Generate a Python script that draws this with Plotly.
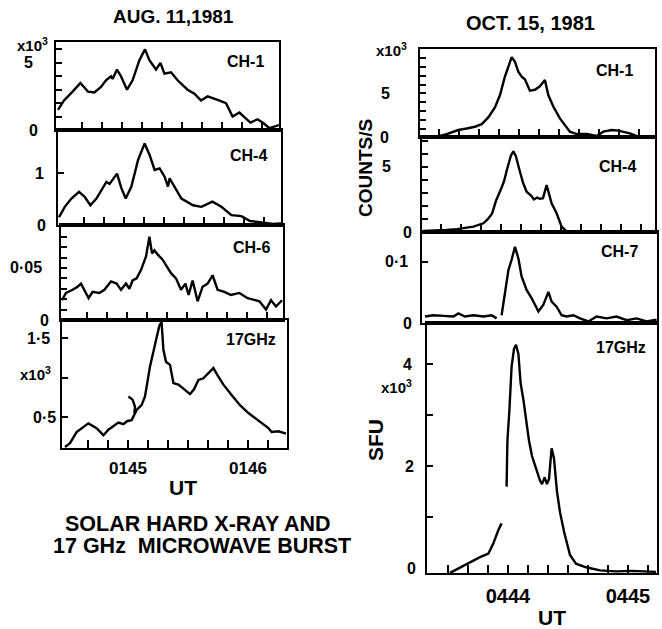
import plotly.graph_objects as go

W, H = 662, 629
FONT = "Liberation Sans"

# ---------------- data (time in seconds relative to the labelled minute) -------------
# AUG. 11, 1981 (seconds after 01:45:00 UT)
t_aug_ch1 = [-32, -29, -24.7, -20.8, -17, -13.8, -10.5, -8, -5.5, -4.7, -2.5, -0.5, 2.5, 5.3, 8.7,
             11.5, 13.7, 17, 19.2, 21.2, 24.5, 27.8, 32.8, 36.2, 39.5, 42.8, 47.8, 52, 55.3, 58.7,
             61.2, 64.2, 67.8, 70.8, 73.7, 78.5]
v_aug_ch1 = [1.5, 2.2, 2.86, 3.5, 2.86, 2.8, 3.2, 3.7, 4.0, 3.8, 4.5, 4.0, 3.0, 3.7, 5.2,
             6.0, 5.2, 4.5, 5.0, 4.2, 4.3, 3.7, 3.0, 2.7, 2.2, 2.5, 2.24, 2.0, 1.0, 1.3,
             0.95, 0.55, 0.8, 0.5, 0.13, 0.37]

t_aug_ch4 = [-32.5, -29.6, -26.3, -22.5, -19.6, -16.8, -13.8, -10.5, -8.8, -7.2, -3.5, -1.3, 0.85,
             3.7, 7, 10.3, 12.8, 15.3, 17.8, 20.3, 22, 22.8, 26.2, 28.7, 34.5, 38.7, 44.2, 48.7,
             53.7, 58.7, 62.8, 68.7, 74.5, 78.5]
v_aug_ch4 = [0.15, 0.35, 0.51, 0.64, 0.54, 0.38, 0.51, 0.71, 0.83, 0.79, 0.99, 0.71, 0.51,
             0.74, 1.25, 1.57, 1.35, 1.06, 1.09, 0.93, 0.74, 0.9, 0.67, 0.51, 0.38, 0.35, 0.45, 0.35,
             0.19, 0.17, 0.08, 0.045, 0.02, 0.03]

t_aug_ch6 = [-32.5, -30.5, -27.2, -24.7, -23, -21.3, -19.2, -17.2, -13.8, -11.3, -8, -5.2, -3, -0.5,
             1.2, 2.8, 4.8, 7, 9.5, 11.2, 12.5, 13.7, 15.3, 17.8, 20.3, 22, 24.5, 27, 29.2, 30.8,
             32.8, 35.3, 37.8, 40.3, 42.8, 45.3, 48.7, 52, 56.2, 60.3, 66.2, 69.5, 72, 74.5, 77.5]
v_aug_ch6 = [0.019, 0.026, 0.029, 0.032, 0.035, 0.029, 0.021, 0.027, 0.026, 0.029, 0.037, 0.035,
             0.029, 0.035, 0.030, 0.038, 0.040, 0.048, 0.061, 0.080, 0.064, 0.067, 0.063, 0.058,
             0.051, 0.045, 0.040, 0.029, 0.035, 0.024, 0.038, 0.018, 0.032, 0.035, 0.043, 0.029,
             0.027, 0.024, 0.026, 0.021, 0.018, 0.010, 0.019, 0.013, 0.019]

t_aug_17 = [-31.5, -29, -25.7, -19.8, -15.7, -12.3, -9.8, -7.3, -4.8, -2.3, -0.3, 1.8, 4.3, 6.8,
            8.5, 11, 13.5, 15.7, 16.8, 17.7, 19, 21, 22.7, 25.2, 27.7, 31, 33, 35.2, 37.7, 40.2,
            42.7, 45.2, 47.7, 51.8, 56, 60.2, 65.2, 70.2, 71.8, 75.2, 79]
v_aug_17 = [0.12, 0.17, 0.31, 0.42, 0.36, 0.27, 0.34, 0.39, 0.43, 0.41, 0.45, 0.46, 0.59, 0.65,
            0.76, 1.14, 1.43, 1.66, 1.70, 1.35, 1.20, 1.16, 0.93, 0.91, 0.86, 0.79, 0.85, 0.97,
            0.99, 1.05, 1.12, 1.01, 0.91, 0.78, 0.65, 0.55, 0.46, 0.36, 0.31, 0.32, 0.29]
t_aug_17_hook = [0.2, 2.3, 3.5, 3.2]
v_aug_17_hook = [0.76, 0.72, 0.63, 0.55]

# OCT. 15, 1981 (seconds after 04:44:00 UT)
t_oct_ch1 = [-37, -31.3, -26.3, -20.5, -16.3, -12.2, -8.8, -5.5, -2.2, 0.35, 2.8, 4.5, 6.2, 7.8,
             9.5, 11.2, 12.8, 15.3, 17.8, 20.3, 22.8, 24.5, 27, 30.3, 32.8, 35.3, 38.7, 43.7,
             48.7, 52, 56.2, 59.5, 65.3, 70.3, 77]
v_oct_ch1 = [0, 0.07, 0.37, 0.83, 1.0, 1.2, 1.5, 2.26, 3.4, 4.8, 6.9, 8.0, 9.1, 8.6,
             7.45, 6.9, 6.6, 5.3, 5.4, 5.8, 6.5, 4.8, 3.5, 2.15, 1.4, 0.64, 0.37, 0.37,
             0.15, 0.64, 0.83, 0.76, 0.45, 0.0, 0.0]

t_oct_ch4 = [-39, -32, -27.2, -22, -18.8, -13.8, -8.8, -6.5, -4.5, -2.5, 0, 1.5, 3, 5, 6.2, 7.5,
             9, 11, 12.8, 15, 16.5, 18, 19.5, 21, 22.8, 24, 25.3, 27.8, 30.3, 32.8, 40, 50, 60,
             70, 77]
v_oct_ch4 = [0.08, 0.1, 0.15, 0.22, 0.28, 0.41, 0.67, 1.0, 1.4, 2.4, 3.3, 3.9, 4.8, 5.9, 6.2, 5.8,
             4.9, 3.8, 3.1, 2.8, 2.5, 2.65, 2.55, 2.6, 3.6, 2.9, 2.2, 1.44, 0.41, 0.05, 0.02, 0.02,
             0.01, 0.02, 0.01]

t_oct_ch7 = [-39, -34.8, -29.8, -24.8, -22.3, -19, -14.8, -9.8, -5.7, -3.2, -2, -0.7, 1, 2.7, 4.3,
             6, 7.7, 9.3, 11.8, 14.3, 17.7, 20.2, 22.7, 24.3, 26.8, 29.3, 31.8, 35.2, 38.5, 42.7,
             46.8, 51.8, 56.8, 61.8, 66.8, 71.8, 76.8]
v_oct_ch7 = [0.011, 0.013, 0.012, 0.011, 0.016, 0.011, 0.013, 0.011, 0.013, 0.008, None, 0.013,
             0.049, 0.086, 0.103, 0.124, 0.105, 0.076, 0.054, 0.041, 0.019, 0.030, 0.051, 0.035,
             0.027, 0.013, 0.011, 0.013, 0.008, 0.003, 0.011, 0.008, 0.011, 0.005, 0.008, 0.003,
             0.006]

t_oct_17_pre = [-29, -24.8, -22, -19.8, -17.3, -14, -9.8, -7.3, -4.8, -3.2]
v_oct_17_pre = [-0.09, 0.0, 0.06, 0.1, 0.16, 0.22, 0.29, 0.49, 0.75, 0.88]
t_oct_17 = [-0.7, -0.3, 0.7, 1, 1.8, 3, 4, 5.2, 6.3, 7.7, 9, 10.5, 12, 14.3, 16, 17, 18.3, 19.5,
            20.5, 21.8, 23, 24.5, 26, 28, 31, 34, 39, 46, 54, 62, 69, 74]
v_oct_17 = [1.6, 2.5, 3.1, 3.36, 3.95, 4.3, 4.38, 4.2, 3.63, 3.3, 2.9, 2.5, 2.2, 1.9, 1.72, 1.65,
            1.78, 1.65, 1.75, 2.35, 2.15, 1.5, 1.1, 0.72, 0.26, 0.09, 0.02, -0.04, -0.06, -0.05,
            -0.07, -0.07]

aug_ticks = [-20, -10, 0, 10, 20, 30, 40, 50, 60, 70]
oct_ticks = [-30, -20, -10, 0, 10, 20, 30, 40, 50, 60, 70]
aug_minute_vals = [0, 60]
aug_minute_text = ["0145", "0146"]
oct_minute_vals = [0, 60]
oct_minute_text = ["0444", "0445"]

# ---------------- layout helpers ----------------
def fx(p):
    return p / W


def fy(p):
    return 1 - p / H


# panel: key, x-domain px, y-domain px (top, bottom), x range, y range, y tick values,
#        x tick values (None = no ticks), minute labels
panels = [
    ("1", (56, 279), (42, 130), [-33, 78.5], [0, 6.55], [1, 2, 3, 4, 5, 6], aug_ticks, None),
    ("2", (58, 281), (130, 225), [-33, 78.5], [0, 1.83], [1], aug_ticks, None),
    ("3", (61, 283), (225, 320), [-33, 78], [0, 0.0913],
     [0.01, 0.02, 0.03, 0.04, 0.05, 0.06, 0.07, 0.08, 0.09], aug_ticks, None),
    ("4", (62, 287), (320, 448), [-33, 79.5], [0.108, 1.728], [0.5, 1.0, 1.5], aug_ticks,
     (aug_minute_vals, aug_minute_text, 17)),
    ("5", (420, 655), (48.5, 137.3), [-39.65, 77.85], [0, 10.09], list(range(1, 11)), oct_ticks, None),
    ("6", (421.7, 655), (137.3, 232), [-39.65, 77], [0, 7.28], list(range(1, 8)), oct_ticks, None),
    ("7", (422, 657), (232, 323.3), [-40.5, 77], [0, 0.148], [0.1], None, None),
    ("8", (427, 657), (323.3, 573.3), [-40.5, 74.5], [-0.098, 4.80], [1, 2, 3, 4], oct_ticks,
     (oct_minute_vals, oct_minute_text, 20)),
]

fig = go.Figure()
LINE = dict(color="black", width=2.4)

series = [
    ("1", t_aug_ch1, v_aug_ch1), ("2", t_aug_ch4, v_aug_ch4), ("3", t_aug_ch6, v_aug_ch6),
    ("4", t_aug_17, v_aug_17), ("4", t_aug_17_hook, v_aug_17_hook),
    ("5", t_oct_ch1, v_oct_ch1), ("6", t_oct_ch4, v_oct_ch4), ("7", t_oct_ch7, v_oct_ch7),
    ("8", t_oct_17_pre, v_oct_17_pre), ("8", t_oct_17, v_oct_17),
]
for key, t, v in series:
    fig.add_trace(go.Scatter(x=t, y=v, mode="lines", line=LINE, xaxis="x" + key,
                             yaxis="y" + key, showlegend=False, hoverinfo="skip"))

layout = {}
for key, xd, yd, xr, yr, ytv, xtv, mins in panels:
    n = "" if key == "1" else key
    xa = dict(domain=[fx(xd[0]), fx(xd[1])], range=xr, anchor="y" + key, showline=True,
              mirror=True, linewidth=2, linecolor="black", showgrid=False, zeroline=False,
              fixedrange=True)
    if xtv is None:
        xa.update(ticks="", showticklabels=False)
    elif mins is None:
        xa.update(tickmode="array", tickvals=xtv, ticks="inside", ticklen=8, tickwidth=2,
                  tickcolor="black", showticklabels=False)
    else:
        vals, texts, fs = mins
        xa.update(tickmode="array", tickvals=vals, ticktext=texts, ticks="inside", ticklen=8,
                  tickwidth=2, tickcolor="black", showticklabels=True, ticklabelstandoff=4,
                  tickfont=dict(family=FONT, size=fs, color="black", weight="bold"),
                  minor=dict(tickmode="array", tickvals=[x for x in xtv if x not in vals],
                             ticks="inside", ticklen=8, tickwidth=2, tickcolor="black"))
    ya = dict(domain=[fy(yd[1]), fy(yd[0])], range=yr, anchor="x" + key, showline=True,
              mirror=True, linewidth=2, linecolor="black", showgrid=False, zeroline=False,
              tickmode="array", tickvals=ytv, ticks="inside", ticklen=6, tickwidth=2,
              tickcolor="black", showticklabels=False, fixedrange=True)
    layout["xaxis" + n] = xa
    layout["yaxis" + n] = ya

fig.update_layout(**layout)

# y tick labels (text, y value, axis key, pixel x centre)
ytick_labels = [
    ("5", 5, "1", 28), ("0", 0, "1", 33),
    ("1", 1, "2", 39), ("0", 0, "2", 41),
    ("0·05", 0.05, "3", 26), ("0", 0, "3", 44),
    ("1·5", 1.5, "4", 38), ("0·5", 0.5, "4", 44),
    ("5", 5, "5", 385), ("0", 0, "5", 384),
    ("5", 5, "6", 386), ("0", 0, "6", 407),
    ("0·1", 0.1, "7", 396), ("0", 0, "7", 407),
    ("4", 4, "8", 407), ("2", 2, "8", 410), ("0", 0, "8", 411),
]
ann = []
for text, val, key, xpix in ytick_labels:
    ann.append(dict(text="<b>%s</b>" % text, x=fx(xpix), xref="paper", y=val, yref="y" + key,
                    xanchor="center", yanchor="middle", showarrow=False,
                    font=dict(family=FONT, size=16, color="black")))


def label(text, xpix, ypix, size, angle=0):
    ann.append(dict(text="<b>%s</b>" % text, x=fx(xpix), y=fy(ypix), xref="paper", yref="paper",
                    xanchor="center", yanchor="middle", showarrow=False, textangle=angle,
                    font=dict(family=FONT, size=size, color="black")))


label("AUG. 11,1981", 173, 16, 19)
label("OCT. 15, 1981", 530, 23, 20)
label("CH-1", 245, 62, 16)
label("CH-4", 248, 156, 16)
label("CH-6", 251, 248, 16)
label("17GHz", 251, 339, 16)
label("CH-1", 614, 70, 16)
label("CH-4", 617, 166, 16)
label("CH-7", 619, 252, 16)
label("17GHz", 621, 347, 16)
label("x10<sup>3</sup>", 32, 44, 15)
label("x10<sup>3</sup>", 391, 50, 15)
label("x10<sup>3</sup>", 35, 373, 15)
label("x10<sup>3</sup>", 397, 386, 15)
label("UT", 183, 487, 21)
label("UT", 552, 617, 21)
label("COUNTS/S", 365, 168, 19, -90)
label("SFU", 375, 440, 21, -90)
label("SOLAR HARD X-RAY AND", 198, 524, 21.5)
label("17 GHz  MICROWAVE BURST", 202, 546, 21.5)

fig.update_layout(width=W, height=H, margin=dict(l=0, r=0, t=0, b=0), paper_bgcolor="white",
                  plot_bgcolor="white", annotations=ann, showlegend=False,
                  font=dict(family=FONT, color="black"))

fig.write_html("out.html", config={"displayModeBar": False},
               post_script="document.body.style.margin='0';document.body.style.overflow='hidden';")
